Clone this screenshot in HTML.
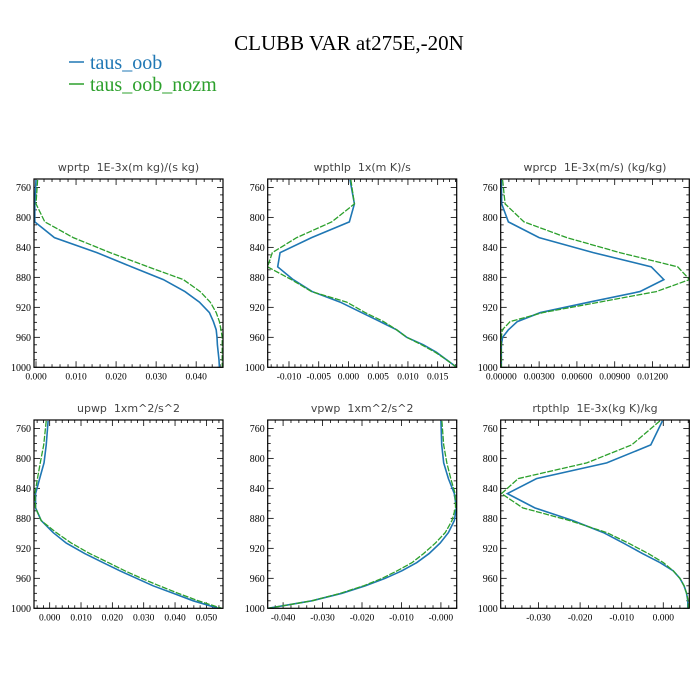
<!DOCTYPE html>
<html><head><meta charset="utf-8">
<style>
body{margin:0;background:#fff;}
svg{display:block;}
.pt{white-space:pre;}
</style></head>
<body>
<svg id="chart" width="700" height="700" xmlns="http://www.w3.org/2000/svg">
<text x="349" y="50" text-anchor="middle" font-family="Liberation Serif, serif" font-size="21">CLUBB VAR at275E,-20N</text>
<g>
<line x1="69" y1="62" x2="84" y2="62" stroke="#1f77b4" stroke-width="1.5"/>
<text x="90" y="69" font-family="Liberation Serif, serif" font-size="20" fill="#1f77b4">taus_oob</text>
<line x1="69" y1="84" x2="84" y2="84" stroke="#2ca02c" stroke-width="1.5"/>
<text x="90" y="91" font-family="Liberation Serif, serif" font-size="20" fill="#2ca02c">taus_oob_nozm</text>
</g>
</svg>
<script>
const levels = [750,782,806,827,847,866,883,899,913,927,939,950,960,970,980,990,1000];
const yTicks = [760,800,840,880,920,960,1000];
const titles = ["wprtp  1E-3x(m kg)/(s kg)","wpthlp  1x(m K)/s","wprcp  1E-3x(m/s) (kg/kg)","upwp  1xm^2/s^2","vpwp  1xm^2/s^2","rtpthlp  1E-3x(kg K)/kg"];
const names = ["wprtp","wpthlp","wprcp","upwp","vpwp","rtpthlp"];
// values in units of 1e-3
const wprtpA = [0,-0.3,-0.3,4.6,15.2,23.9,31.8,37.2,40.8,43.3,44.3,45,45.2,45.3,45.5,45.7,45.8];
const wprtpB = [0.4,0,2.2,9.3,18.5,28,36.8,41,43.5,45,45.8,46.2,46.5,46.5,46.5,46.5,46.5];
const wpthlpA = [0.26,1.0,0.15,-6.2,-11.5,-11.9,-9.3,-6.1,-1.4,2.2,5.3,8.1,9.8,12.6,14.8,16.5,18.2];
const wpthlpB = [0.4,1.0,-2.8,-8.7,-12.8,-13.6,-9.6,-6.2,-0.3,2.8,5.9,8.1,9.8,12.3,14.6,16.5,18.2];
const wprcpA = [0,0.03,0.56,3.0,7.3,11.9,12.9,11.0,7.0,3.1,1.27,0.56,0.1,0,0,0,0];
const wprcpB = [0.1,0.3,1.8,5.2,9.4,14.0,14.94,12.3,7.8,3.3,0.7,0.08,0,0,0,0,0];
const upwpA = [-0.5,-1.1,-1.8,-3.2,-4.5,-4.5,-2.7,1.1,5.3,11.2,17,22.4,27.7,33,39.4,45.8,53.8];
const upwpB = [-1.1,-1.9,-3,-3.9,-4.7,-4.5,-2.7,2.1,6.9,12.8,18.7,24,29.3,35,41,47.4,54.9];
const vpwpA = [0,0.2,0.7,1.9,3.4,3.9,3.4,1.9,-0.2,-3,-6.1,-9.9,-14.1,-19.2,-25.1,-32.7,-43.8];
const vpwpB = [0.25,0.7,1.5,2.5,3.6,3.7,2.8,1.1,-1.4,-4.4,-7.3,-11.1,-14.9,-19.6,-25.5,-32.7,-43.8];
const rtpA = [-0.2,-3.0,-13.6,-30.5,-37.5,-30.9,-21.7,-14.4,-9.6,-5,-0.8,2.4,4,5,5.6,5.9,5.9];
const rtpB = [-0.8,-7.6,-18.4,-34.9,-38.9,-33.8,-22.5,-13.6,-8.4,-3.6,0,2.4,4,5,5.6,6.0,6.0];
const seriesA = [wprtpA,wpthlpA,wprcpA,upwpA,vpwpA,rtpA];
const seriesB = [wprtpB,wpthlpB,wprcpB,upwpB,vpwpB,rtpB];
const xTickVals = [[0,10,20,30,40],[-10,-5,0,5,10,15],[0,3,6,9,12],[0,10,20,30,40,50],[-40,-30,-20,-10,0],[-30,-20,-10,0]];
const xTickLabels = [["0.000","0.010","0.020","0.030","0.040"],["-0.010","-0.005","0.000","0.005","0.010","0.015"],["0.00000","0.00300","0.00600","0.00900","0.01200"],["0.000","0.010","0.020","0.030","0.040","0.050"],["-0.040","-0.030","-0.020","-0.010","-0.000"],["-0.030","-0.020","-0.010","0.000"]];
const xDomains = [[-0.5,46.7],[-13.58,18.2],[-0.05,14.92],[-5,55.3],[-43.9,4.0],[-39.1,6.26]];

const NS="http://www.w3.org/2000/svg";
const svg=document.getElementById('chart');
function mk(tag,attrs,parent){const e=document.createElementNS(NS,tag);for(const k in attrs)e.setAttribute(k,attrs[k]);(parent||svg).appendChild(e);return e;}
const colX=[[34,223],[267.7,456.7],[500.7,689.3]];
const rowY=[[179,367.3],[420,608.3]];
for(let i=0;i<6;i++){
  const [x0,x1]=colX[i%3];const [y0,y1]=rowY[Math.floor(i/3)];
  const [d0,d1]=xDomains[i];
  const xs=v=>x0+(v-d0)/(d1-d0)*(x1-x0);
  const ys=p=>y1-(1000-p)*0.7496;
  const g=mk('g',{});
  
  
  const t=mk('text',{x:(x0+x1)/2,y:y0-8,'text-anchor':'middle','font-family':'DejaVu Sans, sans-serif','font-size':'11',fill:'#444','class':'pt'},g);
  t.textContent=titles[i];
  
  
  for(let p=760;p<=1000;p+=10){
    const y=ys(p);const maj=(p%40===0);const L=maj?6:3;
    mk('line',{x1:x0,x2:x0+L,y1:y,y2:y,stroke:'#000','stroke-width':0.8},g);
    mk('line',{x1:x1,x2:x1-L,y1:y,y2:y,stroke:'#000','stroke-width':0.8},g);
  }
  yTicks.forEach(p=>{
    const tt=mk('text',{x:x0-3,y:ys(p)+3.5,'text-anchor':'end','font-family':'Liberation Serif, serif','font-size':'10'},g);
    tt.textContent=p;
    
    
  });
  const tv=xTickVals[i];const step=tv[1]-tv[0];const minor=step/5;
  for(let v=Math.ceil(d0/minor)*minor;v<=d1+1e-9;v+=minor){
    const x=xs(v);const r=Math.round(v/step*1e6)/1e6;const maj=Math.abs(r-Math.round(r))<1e-4;const L=maj?6:3;
    mk('line',{x1:x,x2:x,y1:y1,y2:y1-L,stroke:'#000','stroke-width':0.8},g);
    mk('line',{x1:x,x2:x,y1:y0,y2:y0+L,stroke:'#000','stroke-width':0.8},g);
  }
  tv.forEach((v,k)=>{
    const tt=mk('text',{x:xs(v),y:y1+12,'text-anchor':'middle','font-family':'Liberation Serif, serif','font-size':'9.5'},g);
    tt.textContent=xTickLabels[i][k];
    
    
  });
  const clipId='c'+i;
  const cp=mk('clipPath',{id:clipId},g);mk('rect',{x:x0,y:y0,width:x1-x0,height:y1-y0},cp);
  const pa=mk('polyline',{points:seriesA[i].map((v,k)=>xs(v)+','+ys(levels[k])).join(' '),fill:'none',stroke:'#1f77b4','stroke-width':1.6,'clip-path':'url(#'+clipId+')'},g);
  
  
  const pb=mk('polyline',{points:seriesB[i].map((v,k)=>xs(v)+','+ys(levels[k])).join(' '),fill:'none',stroke:'#2ca02c','stroke-width':1.3,'stroke-dasharray':'6,1.5','clip-path':'url(#'+clipId+')'},g);
  
  
  const fr=mk('rect',{x:x0,y:y0,width:x1-x0,height:y1-y0,fill:'none',stroke:'#000','stroke-width':1.2},g);
  
  
}
</script>
</body></html>
